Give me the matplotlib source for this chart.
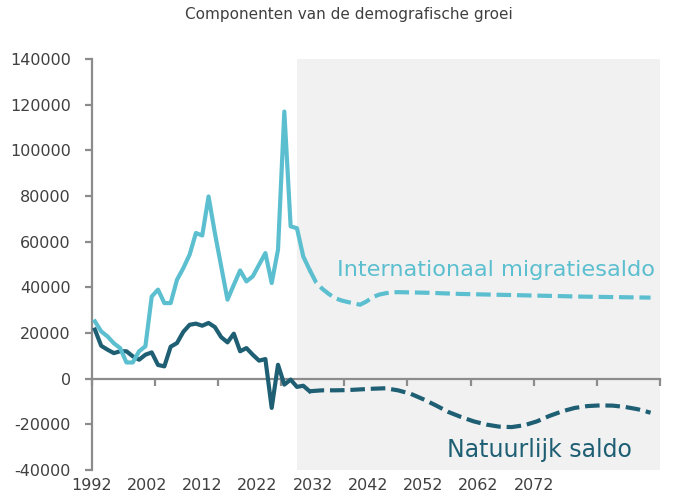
import matplotlib.pyplot as plt

LIGHT = '#5bbfd0'
DARK = '#1f5f74'
AXIS_GREY = '#8c8c8c'
TEXT_GREY = '#404040'

# historical series (solid)
years_hist = list(range(1992, 2027))
migr_hist = [25100, 20700, 18500, 15500, 13400, 7100, 7100, 12000, 14200, 36000,
             39000, 33100, 33100, 43300, 48400, 54300, 63800, 62700, 79800, 63800,
             49200, 34600, 41100, 47400, 42600, 44800, 49900, 55000, 41900, 56500,
             117000, 66700, 65900, 53500, 47700]
nat_hist = [21500, 14400, 12700, 11200, 12000, 12000, 9800, 8300, 10500, 11500,
            6000, 5400, 14000, 15600, 20500, 23600, 24100, 23200, 24400, 22600,
            18200, 15900, 19700, 12000, 13400, 10500, 7900, 8600, -12800, 6100,
            -2600, -400, -3600, -3100, -5500]

# projections (dashed)
migr_proj_years = [2026, 2027, 2028, 2029, 2030, 2031, 2032, 2033, 2034, 2035, 2036,
                   2037, 2038, 2039, 2040, 2045, 2050, 2055, 2060, 2065, 2070, 2075, 2080]
migr_proj = [47700, 42300, 39400, 37200, 35300, 34300, 33600, 33000, 32400, 33800, 35700,
             36800, 37400, 37800, 37900, 37600, 37100, 36800, 36500, 36200, 35900, 35700, 35500]
nat_proj_years = list(range(2026, 2081, 2))
nat_proj = [-5500, -5100, -5100, -5000, -4700, -4400, -4200, -5100, -6600, -9000,
            -11700, -14600, -16800, -18700, -20100, -21000, -21200, -20400, -18700, -16300,
            -14300, -12800, -12000, -11700, -11800, -12400, -13400, -14900]

yticks = list(range(-40000, 140001, 20000))
xlabels = ['1992', '2002', '2012', '2022', '2032', '2042', '2052', '2062', '2072']

fig = plt.figure(figsize=(6.78, 4.98), dpi=100)
ax = fig.add_axes([0.1353, 0.0562, 0.8382, 0.8253])

ax.set_xlim(1991.5, 2081.5)
ax.set_ylim(-40000, 140000)

# shaded projection period
ax.axvspan(2024, 2081.5, color='#f1f1f1', zorder=0, lw=0)

ax.plot(years_hist, nat_hist, color=DARK, lw=3, solid_joinstyle='round', zorder=3)
ax.plot(nat_proj_years, nat_proj, color=DARK, lw=3, dashes=(3.5, 1.4), zorder=3)
ax.plot(years_hist, migr_hist, color=LIGHT, lw=3, solid_joinstyle='round', zorder=4)
ax.plot(migr_proj_years, migr_proj, color=LIGHT, lw=3, dashes=(3.5, 1.4), zorder=4)

ax.text(2030.4, 47700, 'Internationaal migratiesaldo', color=LIGHT, fontsize=16.2,
        ha='left', va='center')
ax.text(2047.8, -31100, 'Natuurlijk saldo', color=DARK, fontsize=17,
        ha='left', va='center')

# axes styling
for s in ['top', 'right']:
    ax.spines[s].set_visible(False)
ax.spines['left'].set_color(AXIS_GREY)
ax.spines['left'].set_linewidth(1.6)
ax.spines['bottom'].set_position(('data', 0))
ax.spines['bottom'].set_color(AXIS_GREY)
ax.spines['bottom'].set_linewidth(1.6)
ax.spines['bottom'].set_zorder(2)

ax.set_yticks(yticks)
ax.set_yticklabels([str(v) for v in yticks])
ax.tick_params(axis='y', direction='out', length=5, width=1.6, color=AXIS_GREY,
               labelcolor=TEXT_GREY, labelsize=11.5, pad=10)

ax.set_xticks([1991.5 + 10 * i for i in range(10)])
ax.set_xticklabels([])
ax.tick_params(axis='x', direction='out', length=5, width=1.6, color=AXIS_GREY)

# year labels sit along the bottom of the chart
sec = ax.secondary_xaxis('bottom')
sec.spines['bottom'].set_visible(False)
sec.set_xticks([1991.5 + 8.75 * i for i in range(len(xlabels))])
sec.set_xticklabels(xlabels)
sec.tick_params(axis='x', length=0, labelcolor=TEXT_GREY, labelsize=11.5, pad=6)

fig.text(0.515, 0.97, 'Componenten van de demografische groei', ha='center', va='center',
         color=TEXT_GREY, fontsize=11)

fig.savefig('out.png', dpi=100)
